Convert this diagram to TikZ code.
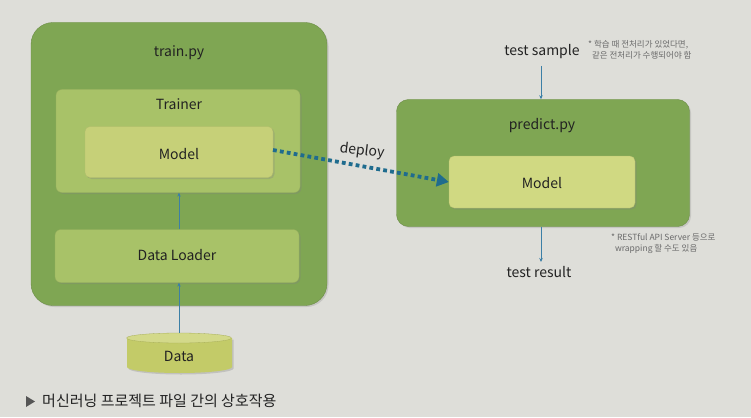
\documentclass[tikz,border=0pt]{standalone}
\usepackage{fontspec}
\setmainfont{Noto Sans CJK KR}
\usetikzlibrary{arrows.meta,shadows}
\definecolor{bg}{HTML}{DEDED9}
\definecolor{outergreen}{HTML}{7FA653}
\definecolor{midgreen}{HTML}{A8C268}
\definecolor{modelgreen}{HTML}{C6D078}
\definecolor{pmodel}{HTML}{D0D982}
\definecolor{cylfill}{HTML}{C3CB68}
\definecolor{cyltop}{HTML}{D3D98A}
\definecolor{arrowblue}{HTML}{3C7FA6}
\definecolor{deployblue}{HTML}{1F6C8E}
\definecolor{notegray}{HTML}{6A6A6A}
\definecolor{txt}{HTML}{222222}
\tikzset{
  outerbox/.style={draw=outergreen!85!black, line width=0.4pt, fill=outergreen, rounded corners=22pt, inner sep=0pt,
    drop shadow={opacity=0.25, shadow xshift=1.5pt, shadow yshift=-1.5pt}},
  midbox/.style={draw=midgreen!90!black, line width=0.3pt, fill=midgreen, rounded corners=6pt, inner sep=0pt,
    drop shadow={opacity=0.3, shadow xshift=1.5pt, shadow yshift=-1.5pt}},
  modelbox/.style={draw=modelgreen!90!black, line width=0.3pt, fill=modelgreen, rounded corners=5pt, inner sep=0pt,
    drop shadow={opacity=0.3, shadow xshift=1.5pt, shadow yshift=-1.5pt}},
  lbl/.style={text=txt, font=\fontsize{14}{16}\selectfont, inner sep=1pt},
  note/.style={text=notegray, font=\fontsize{8.5}{11}\selectfont, align=left, anchor=north west, inner sep=0pt},
  flow/.style={draw=arrowblue, line width=0.7pt, -{Stealth[length=4pt,width=3.5pt]}},
  deployarrow/.style={draw=deployblue, line width=3.8pt, dash pattern=on 3.8pt off 3.2pt,
    -{Triangle[length=12pt,width=13pt]}}
}
\begin{document}
\begin{tikzpicture}[x=1pt,y=-1pt]
\fill[bg] (0,0) rectangle (751,417);
\useasboundingbox (0,0) rectangle (751,417);

% train.py
\node[outerbox, minimum width=296pt, minimum height=283pt] (train) at (179,164) {};
\node[lbl] (trainlbl) at (179,53) {train.py};
\node[midbox, minimum width=244pt, minimum height=103pt] (trainer) at (178,141) {};
\node[lbl] (trainerlbl) at (179,104) {Trainer};
\node[modelbox, minimum width=188pt, minimum height=51pt] (model1) at (179,152) {};
\node[lbl] (model1lbl) at (179,154) {Model};
\node[midbox, minimum width=244pt, minimum height=53pt] (loader) at (177,256) {};
\node[lbl] (loaderlbl) at (177,255) {Data Loader};

% Data cylinder
\fill[cylfill, drop shadow={opacity=0.3, shadow xshift=1.5pt, shadow yshift=-1.5pt}]
  (127,338) -- (127,367) arc[start angle=180, end angle=360, x radius=52.5pt, y radius=6pt] -- (232,338) -- cycle;
\fill[cyltop] (179,338) ellipse[x radius=52.5pt, y radius=5pt];
\draw[cylfill!85!black, line width=0.3pt] (179,338) ellipse[x radius=52.5pt, y radius=5pt];
\node[lbl] (data) at (179,356) {Data};
\coordinate (datatop) at (179,333);

\draw[flow] (datatop) -- (loader.south -| datatop);
\draw[flow] (loader.north -| datatop) -- (trainer.south -| datatop);

% predict.py
\node[outerbox, rounded corners=12pt, minimum width=293pt, minimum height=127pt] (predict) at (543,163) {};
\node[lbl] (predictlbl) at (542,126) {predict.py};
\node[modelbox, fill=pmodel, minimum width=186pt, minimum height=52pt] (model2) at (542,182) {};
\node[lbl] (model2lbl) at (542,183) {Model};

\node[lbl] (sample) at (542,52) {test sample};
\node[lbl] (result) at (539,272) {test result};
\coordinate (s1) at (541,66);
\coordinate (r1) at (541,262);
\draw[flow] (s1) -- (predict.north -| s1);
\draw[flow] (predict.south -| r1) -- (r1);

% deploy
\coordinate (dstart) at (273,150);
\draw[deployarrow] (dstart) -- (model2.west);
\node[lbl, rotate=-7] (deploy) at (362,151) {deploy};

% notes
\node[note] (note1) at (588,40) {* 학습 때 전처리가 있었다면,\\\ \ 같은 전처리가 수행되어야 함};
\node[note] (note2) at (611,233) {* RESTful API Server 등으로\\\ \ wrapping 할 수도 있음};

% caption
\fill[notegray!80!black] (26,396) -- (35,401.5) -- (26,407) -- cycle;
\node[text=txt, font=\fontsize{15}{16}\selectfont, anchor=west, inner sep=0pt] (caption) at (42,401) {머신러닝 프로젝트 파일 간의 상호작용};
\end{tikzpicture}
\end{document}
